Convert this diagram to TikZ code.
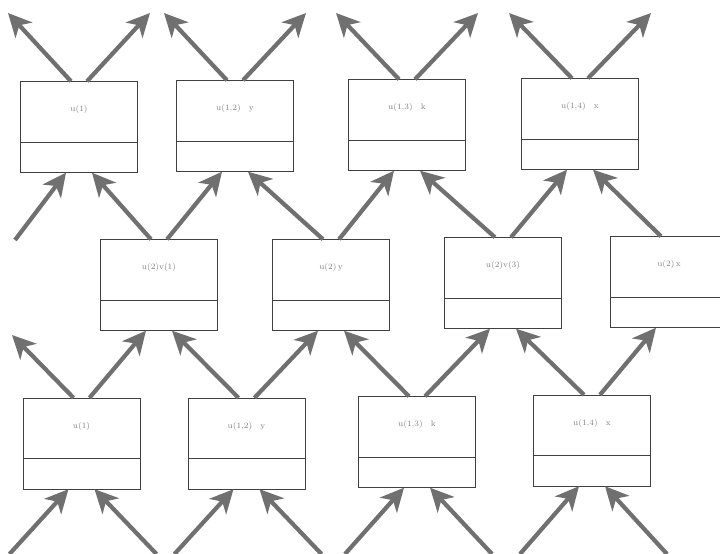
\documentclass[tikz,border=0pt]{standalone}
\usepackage{xcolor}
\usepackage{tikz}
\usetikzlibrary{arrows.meta,shapes.multipart}
\definecolor{arrowgray}{RGB}{112,112,112}
\newcommand{\celltext}[1]{\rule[-0.9cm]{0pt}{1.8cm}#1}

\begin{document}
\begin{tikzpicture}[
  x=0.03cm, y=-0.03cm,
  >={Stealth[length=7mm, width=6.8mm, inset=2mm]},
  cell/.style={draw=black!75, thin, fill=white, rectangle split, rectangle split parts=2, minimum width=3.5cm, inner ysep=0pt, inner xsep=2pt, rectangle split empty part height=0.9cm, font=\scriptsize, text=black!50},
  flow/.style={->, draw=arrowgray, line width=3.6pt},
]
\useasboundingbox (0,0) rectangle (720,554);
% upper row
\node[cell] (a1) at (79,127) {\celltext{u(1)}\nodepart{two}};
\node[cell] (a2) at (235,126) {\celltext{u(1,2)\quad y}\nodepart{two}};
\node[cell] (a3) at (407,125) {\celltext{u(1,3)\quad k}\nodepart{two}};
\node[cell] (a4) at (580,124) {\celltext{u(1,4)\quad x}\nodepart{two}};
% middle row
\node[cell] (b1) at (159,285) {\celltext{u(2)v(1)}\nodepart{two}};
\node[cell] (b2) at (331,285) {\celltext{u(2)\,y}\nodepart{two}};
\node[cell] (b3) at (503,283) {\celltext{u(2)v(3)}\nodepart{two}};
\node[cell] (b4) at (669,282) {\celltext{u(2)\,x}\nodepart{two}};
% lower row
\node[cell] (c1) at (81.5,443.5) {\celltext{u(1)}\nodepart{two}};
\node[cell] (c2) at (246.5,443.5) {\celltext{u(1,2)\quad y}\nodepart{two}};
\node[cell] (c3) at (417,442) {\celltext{u(1,3)\quad k}\nodepart{two}};
\node[cell] (c4) at (592,440.5) {\celltext{u(1,4)\quad x}\nodepart{two}};
% free ends
\foreach \i/\x in {1/79,2/235,3/407,4/580} {
  \coordinate (top\i l) at (\x-71,13);
  \coordinate (top\i r) at (\x+71,13);
}
\foreach \i/\x in {1/81.5,2/246.5,3/417,4/592} {
  \coordinate (bot\i l) at (\x-72,554);
  \coordinate (bot\i r) at (\x+75,554);
}
\coordinate (inleft) at (15,240);
\coordinate (outleft) at (12,335);
% arrows leaving the upper row
\foreach \i in {1,...,4} {
  \draw[flow] ([xshift=-2.4mm]a\i.north) -- (top\i l);
  \draw[flow] ([xshift=2.4mm]a\i.north) -- (top\i r);
}
% middle row to upper row
\draw[flow] (inleft) -- ([xshift=-3.9mm]a1.south);
\foreach \i in {1,...,4}
  \draw[flow] ([xshift=-2.4mm]b\i.north) -- ([xshift=3.9mm]a\i.south);
\foreach \i/\j in {1/2,2/3,3/4}
  \draw[flow] ([xshift=2.4mm]b\i.north) -- ([xshift=-3.9mm]a\j.south);
% lower row to middle row
\draw[flow] ([xshift=-2.4mm]c1.north) -- (outleft);
\foreach \i/\j in {2/1,3/2,4/3}
  \draw[flow] ([xshift=-2.4mm]c\i.north) -- ([xshift=3.9mm]b\j.south);
\foreach \i in {1,...,4}
  \draw[flow] ([xshift=2.4mm]c\i.north) -- ([xshift=-3.9mm]b\i.south);
% arrows entering the lower row
\foreach \i in {1,...,4} {
  \draw[flow] (bot\i l) -- ([xshift=-3.9mm]c\i.south);
  \draw[flow] (bot\i r) -- ([xshift=3.9mm]c\i.south);
}
\end{tikzpicture}
\end{document}
